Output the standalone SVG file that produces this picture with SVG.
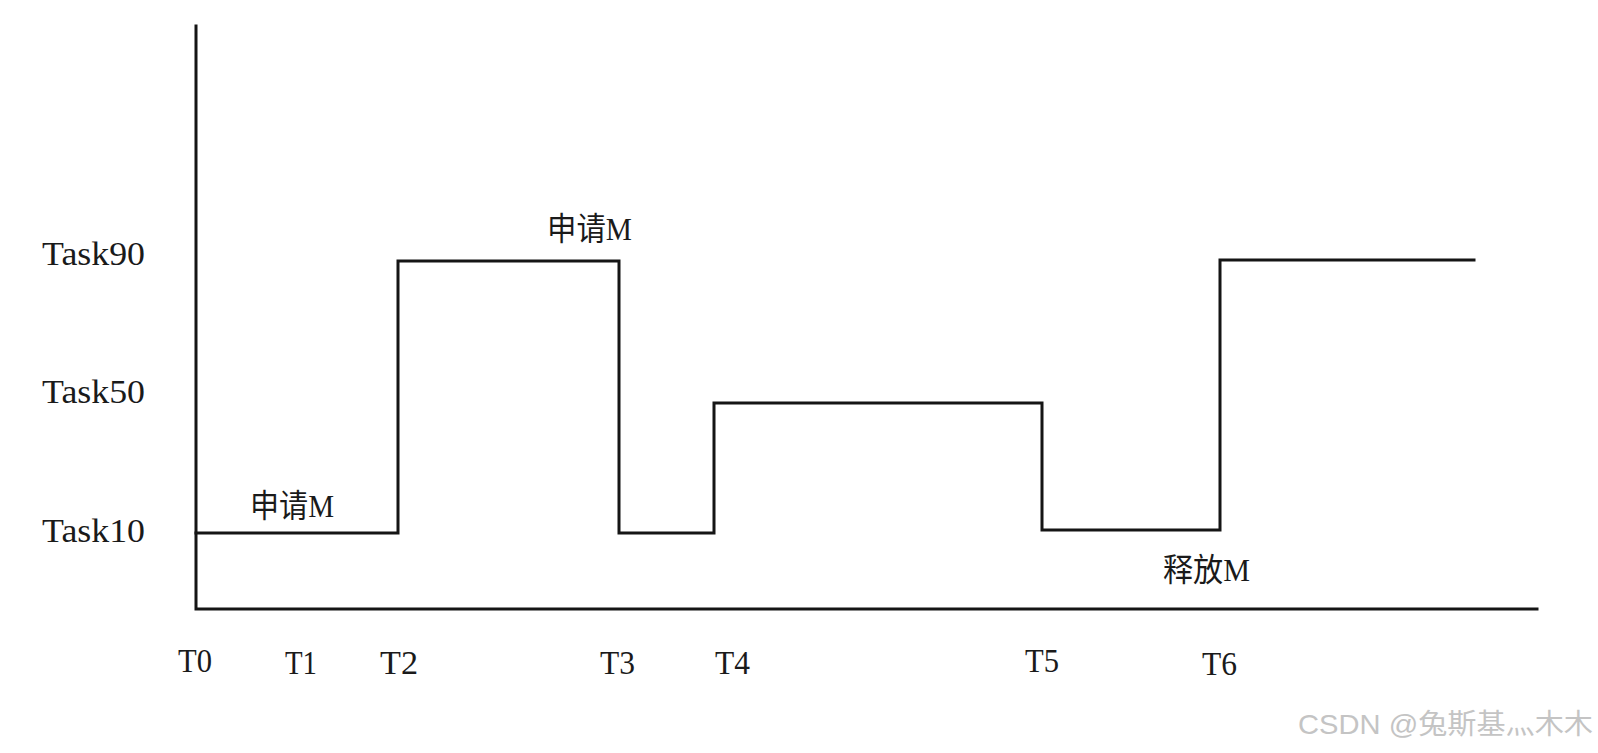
<svg xmlns="http://www.w3.org/2000/svg" width="1598" height="753" viewBox="0 0 1598 753">
<style>
.ln{fill:none;stroke:#151515;stroke-width:3;stroke-linecap:square;stroke-linejoin:miter}
.lbl{font-family:"Liberation Serif","Noto Sans CJK SC",serif;font-size:33px;fill:#1a1a1a}
.cjk{font-family:"Liberation Serif","Noto Sans CJK SC",serif;font-size:32px;fill:#1a1a1a}
.wm{font-family:"Liberation Sans","Noto Sans CJK SC",sans-serif;font-size:28px;fill:#c4c4c4}
</style>
<rect width="1598" height="753" fill="#ffffff"/>
<g id="axes">
<path class="ln" d="M196,26 V609 H1537"/>
</g>
<g id="connectors">
<path class="ln" d="M196,533 H398 V261 H619 V533 H714 V403 H1042 V530 H1220 V260 H1474"/>
</g>
<g id="y-labels">
<text class="lbl" x="42" y="265" textLength="103" lengthAdjust="spacingAndGlyphs">Task90</text>
<text class="lbl" x="42" y="403" textLength="103" lengthAdjust="spacingAndGlyphs">Task50</text>
<text class="lbl" x="42" y="542" textLength="103" lengthAdjust="spacingAndGlyphs">Task10</text>
</g>
<g id="x-labels">
<text class="lbl" x="178" y="672" textLength="34" lengthAdjust="spacingAndGlyphs">T0</text>
<text class="lbl" x="285" y="674" textLength="32" lengthAdjust="spacingAndGlyphs">T1</text>
<text class="lbl" x="380" y="674" textLength="38" lengthAdjust="spacingAndGlyphs">T2</text>
<text class="lbl" x="600" y="674" textLength="35" lengthAdjust="spacingAndGlyphs">T3</text>
<text class="lbl" x="715" y="674" textLength="35" lengthAdjust="spacingAndGlyphs">T4</text>
<text class="lbl" x="1025" y="672" textLength="34" lengthAdjust="spacingAndGlyphs">T5</text>
<text class="lbl" x="1202" y="675" textLength="35" lengthAdjust="spacingAndGlyphs">T6</text>
</g>
<g id="annotations">
<text id="req1" class="cjk" x="250" y="517" textLength="84" lengthAdjust="spacingAndGlyphs">申请M</text>
<text id="req2" class="cjk" x="547" y="240" textLength="85" lengthAdjust="spacingAndGlyphs">申请M</text>
<text id="rel" class="cjk" x="1163" y="581" textLength="87" lengthAdjust="spacingAndGlyphs">释放M</text>
</g>
<g id="watermark">
<text class="wm" x="1298" y="734" textLength="295" lengthAdjust="spacingAndGlyphs">CSDN @兔斯基灬木木</text>
</g>
</svg>
